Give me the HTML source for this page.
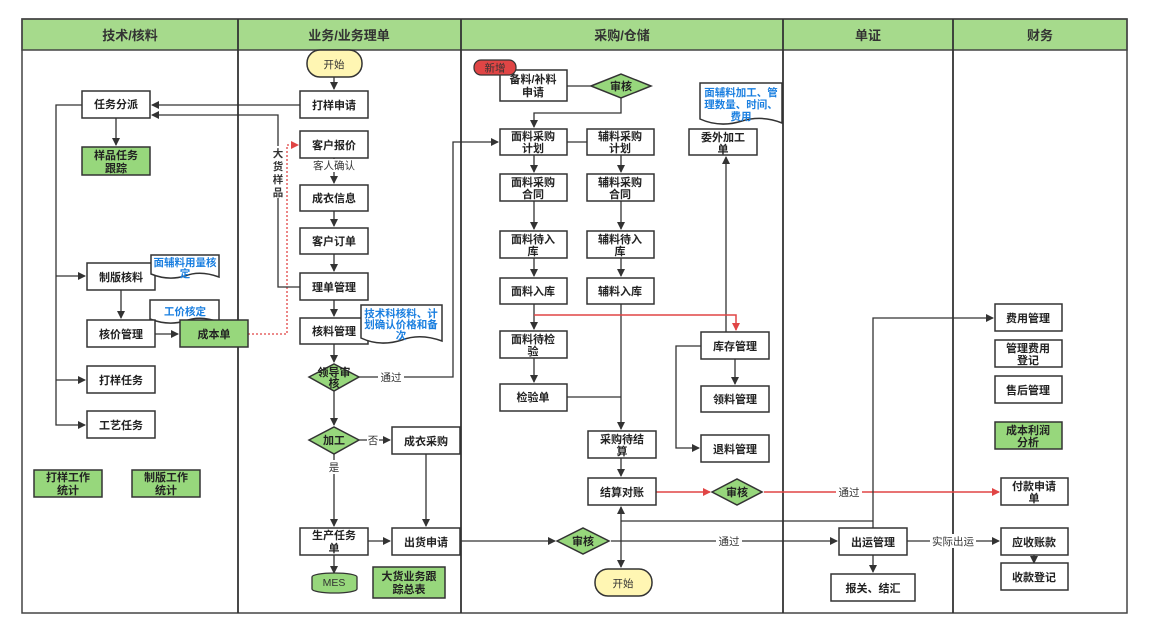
<!DOCTYPE html>
<html><head><meta charset="utf-8"><style>
html,body{margin:0;padding:0;background:#fff;}
svg{display:block;font-family:"Liberation Sans","Noto Sans CJK SC",sans-serif;}
.b{fill:#fff;stroke:#333;stroke-width:1.5;}
.g{fill:#97d77c;stroke:#333;stroke-width:1.5;}
.t{font-size:11px;fill:#222;text-anchor:middle;font-weight:bold;}
.bl{font-size:10.5px;fill:#1a7fe0;text-anchor:middle;font-weight:bold;}
.l{stroke:#333;stroke-width:1.3;fill:none;}
.r{stroke:#e04545;stroke-width:1.5;fill:none;}
.lb{font-size:10.5px;fill:#333;text-anchor:middle;}
</style></head><body>
<svg width="1151" height="634" viewBox="0 0 1151 634">
<defs>
<marker id="a" markerWidth="8" markerHeight="8" refX="7" refY="4" orient="auto" markerUnits="userSpaceOnUse"><path d="M0,0 L8,4 L0,8 z" fill="#333"/></marker>
<marker id="ar" markerWidth="8" markerHeight="8" refX="7" refY="4" orient="auto" markerUnits="userSpaceOnUse"><path d="M0,0 L8,4 L0,8 z" fill="#e04545"/></marker>
</defs>
<!-- frame -->
<rect x="22" y="19" width="1105" height="31" fill="#a6da8c" stroke="#444" stroke-width="1.5"/>
<rect x="22" y="19" width="1105" height="594" fill="none" stroke="#444" stroke-width="1.5"/>
<g stroke="#333" stroke-width="1.8">
<line x1="238" y1="19" x2="238" y2="613"/><line x1="461" y1="19" x2="461" y2="613"/>
<line x1="783" y1="19" x2="783" y2="613"/><line x1="953" y1="19" x2="953" y2="613"/>
</g>
<g font-size="13" font-weight="bold" fill="#333" text-anchor="middle">
<text x="130" y="40">技术/核料</text><text x="349" y="40">业务/业务理单</text>
<text x="622" y="40">采购/仓储</text><text x="868" y="40">单证</text><text x="1040" y="40">财务</text>
</g>

<!-- connectors lane1 -->
<path class="l" d="M82,105 H56 V425 H85" marker-end="url(#a)"/>
<path class="l" d="M56,276 H85" marker-end="url(#a)"/>
<path class="l" d="M56,380 H85" marker-end="url(#a)"/>
<path class="l" d="M116,118 V145" marker-end="url(#a)"/>
<path class="l" d="M121,290 V318" marker-end="url(#a)"/>
<path class="l" d="M155,334 H178" marker-end="url(#a)"/>
<path d="M248,334 H287 V145 H298" fill="none" stroke="#e04545" stroke-width="1.3" stroke-dasharray="2,2" marker-end="url(#ar)"/>
<!-- lane2 -->
<path class="l" d="M300,105 H152" marker-end="url(#a)"/>
<path class="l" d="M300,287 H278 V115 H152" marker-end="url(#a)"/>
<path class="l" d="M334,77 V89" marker-end="url(#a)"/>
<path class="l" d="M334,158 V183" marker-end="url(#a)"/>
<path class="l" d="M334,211 V226" marker-end="url(#a)"/>
<path class="l" d="M334,254 V271" marker-end="url(#a)"/>
<path class="l" d="M334,300 V316" marker-end="url(#a)"/>
<path class="l" d="M334,344 V362" marker-end="url(#a)"/>
<path class="l" d="M334,391 V425" marker-end="url(#a)"/>
<path class="l" d="M334,454 V526" marker-end="url(#a)"/>
<path class="l" d="M359,440 H390" marker-end="url(#a)"/>
<path class="l" d="M426,454 V526" marker-end="url(#a)"/>
<path class="l" d="M368,541 H390" marker-end="url(#a)"/>
<path class="l" d="M334,555 V573" marker-end="url(#a)"/>
<path class="l" d="M359,377 H453 V142 H498" marker-end="url(#a)"/>
<!-- lane3 -->
<path class="l" d="M567,86 H591"/>
<path class="l" d="M621,98 V113 H534 V127" marker-end="url(#a)"/>
<path class="l" d="M567,142 H587"/>
<path class="l" d="M534,155 V172" marker-end="url(#a)"/><path class="l" d="M621,155 V172" marker-end="url(#a)"/>
<path class="l" d="M534,201 V229" marker-end="url(#a)"/><path class="l" d="M621,201 V229" marker-end="url(#a)"/>
<path class="l" d="M534,258 V276" marker-end="url(#a)"/><path class="l" d="M621,258 V276" marker-end="url(#a)"/>
<path class="l" d="M534,304 V329" marker-end="url(#a)"/>
<path class="l" d="M534,358 V382" marker-end="url(#a)"/>
<path class="l" d="M621,304 V429" marker-end="url(#a)"/>
<path class="l" d="M567,397 H621"/>
<path class="l" d="M726,332 V157" marker-end="url(#a)"/>
<path class="r" d="M534,315 H736 V330" marker-end="url(#ar)"/>
<path class="l" d="M735,359 V384" marker-end="url(#a)"/>
<path class="l" d="M701,346 H676 V448 H699" marker-end="url(#a)"/>
<path class="l" d="M621,458 V476" marker-end="url(#a)"/>
<path class="r" d="M656,492 H710" marker-end="url(#ar)"/>
<path class="r" d="M764,492 H999" marker-end="url(#ar)"/>
<path class="l" d="M460,541 H555" marker-end="url(#a)"/>
<path class="l" d="M611,541 H837" marker-end="url(#a)"/>
<path class="l" d="M621,521 V507" marker-end="url(#a)"/>
<path class="l" d="M621,521 V567" marker-end="url(#a)"/>
<path class="l" d="M621,521 H873"/>
<path class="l" d="M873,528 V318 H993" marker-end="url(#a)"/>
<path class="l" d="M873,555 V572" marker-end="url(#a)"/>
<path class="l" d="M907,541 H999" marker-end="url(#a)"/>
<path class="l" d="M1034,555 V563" marker-end="url(#a)"/>
<!-- edge labels -->
<rect x="312" y="159" width="44" height="13" fill="#fff"/><text class="lb" x="334" y="169" fill="#555">客人确认</text>
<rect x="378" y="370" width="26" height="14" fill="#fff"/><text class="lb" x="391" y="381">通过</text>
<rect x="367" y="433" width="12" height="14" fill="#fff"/><text class="lb" x="373" y="444">否</text>
<rect x="327" y="460" width="14" height="14" fill="#fff"/><text class="lb" x="334" y="471">是</text>
<rect x="836" y="485" width="26" height="14" fill="#fff"/><text class="lb" x="849" y="496">通过</text>
<rect x="716" y="534" width="26" height="14" fill="#fff"/><text class="lb" x="729" y="545">通过</text>
<rect x="930" y="534" width="46" height="14" fill="#fff"/><text class="lb" x="953" y="545">实际出运</text>
<rect x="270" y="146" width="16" height="52" fill="#fff"/>
<g class="lb" font-weight="bold"><text x="278" y="157">大</text><text x="278" y="170">货</text><text x="278" y="183">样</text><text x="278" y="196">品</text></g>

<!-- lane1 nodes -->
<rect class="b" x="82" y="91" width="68" height="27"/><text class="t" x="116" y="108">任务分派</text>
<rect class="g" x="82" y="147" width="68" height="28"/><text class="t" x="116" y="159">样品任务</text><text class="t" x="116" y="172">跟踪</text>
<rect class="b" x="87" y="263" width="68" height="27"/><text class="t" x="121" y="281">制版核料</text>
<path class="b" d="M151,255 H219 V277 Q200,270 185,276 Q168,281 151,274 Z"/><text class="bl" x="185" y="266">面辅料用量核</text><text class="bl" x="185" y="277">定</text>
<path class="b" d="M150,300 H219 V322 Q200,315 185,321 Q168,326 150,319 Z"/><text class="bl" x="185" y="315">工价核定</text>
<rect class="b" x="87" y="320" width="68" height="27"/><text class="t" x="121" y="338">核价管理</text>
<rect class="g" x="180" y="320" width="68" height="27"/><text class="t" x="214" y="338">成本单</text>
<rect class="b" x="87" y="366" width="68" height="27"/><text class="t" x="121" y="384">打样任务</text>
<rect class="b" x="87" y="411" width="68" height="27"/><text class="t" x="121" y="429">工艺任务</text>
<rect class="g" x="34" y="470" width="68" height="27"/><text class="t" x="68" y="481">打样工作</text><text class="t" x="68" y="494">统计</text>
<rect class="g" x="132" y="470" width="68" height="27"/><text class="t" x="166" y="481">制版工作</text><text class="t" x="166" y="494">统计</text>

<!-- lane2 nodes -->
<rect x="307" y="50" width="55" height="27" rx="13" fill="#fff6b3" stroke="#333" stroke-width="1.5"/><text class="lb" x="334" y="68">开始</text>
<rect class="b" x="300" y="91" width="68" height="27"/><text class="t" x="334" y="109">打样申请</text>
<rect class="b" x="300" y="131" width="68" height="27"/><text class="t" x="334" y="149">客户报价</text>
<rect class="b" x="300" y="185" width="68" height="26"/><text class="t" x="334" y="202">成衣信息</text>
<rect class="b" x="300" y="228" width="68" height="26"/><text class="t" x="334" y="245">客户订单</text>
<rect class="b" x="300" y="273" width="68" height="27"/><text class="t" x="334" y="291">理单管理</text>
<rect class="b" x="300" y="318" width="68" height="26"/><text class="t" x="334" y="335">核料管理</text>
<path class="b" d="M361,305 H442 V341 Q420,333 402,340 Q380,347 361,338 Z"/><text class="bl" x="401" y="317">技术科核料、计</text><text class="bl" x="401" y="328">划确认价格和备</text><text class="bl" x="401" y="339">次</text>
<polygon class="g" points="309,377 334,364 359,377 334,391"/><text class="t" x="334" y="376" font-size="10">领导审</text><text class="t" x="334" y="387" font-size="10">核</text>
<polygon class="g" points="309,440 334,427 359,440 334,454"/><text class="t" x="334" y="444">加工</text>
<rect class="b" x="392" y="427" width="68" height="27"/><text class="t" x="426" y="445">成衣采购</text>
<rect class="b" x="300" y="528" width="68" height="27"/><text class="t" x="334" y="539">生产任务</text><text class="t" x="334" y="552">单</text>
<rect class="b" x="392" y="528" width="68" height="27"/><text class="t" x="426" y="546">出货申请</text>
<path d="M312,577 V589 A22.5,4 0 0 0 357,589 V577 A22.5,4 0 0 0 312,577 Z" fill="#97d77c" stroke="#333" stroke-width="1.3"/><text class="lb" x="334" y="586" fill="#333">MES</text>
<rect class="g" x="373" y="567" width="72" height="31"/><text class="t" x="409" y="580">大货业务跟</text><text class="t" x="409" y="593">踪总表</text>

<!-- lane3 nodes -->
<rect class="b" x="500" y="70" width="67" height="31"/><text class="t" x="533" y="83">备料/补料</text><text class="t" x="533" y="96">申请</text>
<rect x="474" y="60" width="42" height="15" rx="7" fill="#e04545" stroke="#333" stroke-width="1.2"/><text x="495" y="71.5" font-size="10.5" fill="#333" text-anchor="middle">新增</text>
<polygon class="g" points="591,86 621,74 651,86 621,98"/><text class="t" x="621" y="90">审核</text>
<rect class="b" x="500" y="129" width="67" height="26"/><text class="t" x="533" y="140">面料采购</text><text class="t" x="533" y="152">计划</text>
<rect class="b" x="587" y="129" width="67" height="26"/><text class="t" x="620" y="140">辅料采购</text><text class="t" x="620" y="152">计划</text>
<rect class="b" x="500" y="174" width="67" height="27"/><text class="t" x="533" y="186">面料采购</text><text class="t" x="533" y="198">合同</text>
<rect class="b" x="587" y="174" width="67" height="27"/><text class="t" x="620" y="186">辅料采购</text><text class="t" x="620" y="198">合同</text>
<rect class="b" x="500" y="231" width="67" height="27"/><text class="t" x="533" y="243">面料待入</text><text class="t" x="533" y="255">库</text>
<rect class="b" x="587" y="231" width="67" height="27"/><text class="t" x="620" y="243">辅料待入</text><text class="t" x="620" y="255">库</text>
<rect class="b" x="500" y="278" width="67" height="26"/><text class="t" x="533" y="295">面料入库</text>
<rect class="b" x="587" y="278" width="67" height="26"/><text class="t" x="620" y="295">辅料入库</text>
<path class="b" d="M700,83 H782 V123 Q762,115 742,121 Q720,128 700,119 Z"/><text class="bl" x="741" y="96">面辅料加工、管</text><text class="bl" x="741" y="108">理数量、时间、</text><text class="bl" x="741" y="120">费用</text>
<rect class="b" x="689" y="129" width="68" height="26"/><text class="t" x="723" y="141">委外加工</text><text class="t" x="723" y="153">单</text>
<rect class="b" x="500" y="331" width="67" height="27"/><text class="t" x="533" y="343">面料待检</text><text class="t" x="533" y="355">验</text>
<rect class="b" x="500" y="384" width="67" height="27"/><text class="t" x="533" y="401">检验单</text>
<rect class="b" x="701" y="332" width="68" height="27"/><text class="t" x="735" y="350">库存管理</text>
<rect class="b" x="701" y="386" width="68" height="26"/><text class="t" x="735" y="403">领料管理</text>
<rect class="b" x="701" y="435" width="68" height="27"/><text class="t" x="735" y="453">退料管理</text>
<rect class="b" x="588" y="431" width="68" height="27"/><text class="t" x="622" y="443">采购待结</text><text class="t" x="622" y="455">算</text>
<rect class="b" x="588" y="478" width="68" height="27"/><text class="t" x="622" y="496">结算对账</text>
<polygon class="g" points="712,492 737,479 762,492 737,505"/><text class="t" x="737" y="496">审核</text>
<polygon class="g" points="557,541 583,528 609,541 583,554"/><text class="t" x="583" y="545">审核</text>
<rect x="595" y="569" width="57" height="27" rx="13" fill="#fff6b3" stroke="#333" stroke-width="1.5"/><text class="lb" x="623" y="587">开始</text>

<!-- lane4 -->
<rect class="b" x="839" y="528" width="68" height="27"/><text class="t" x="873" y="546">出运管理</text>
<rect class="b" x="831" y="574" width="84" height="27"/><text class="t" x="873" y="592">报关、结汇</text>
<!-- lane5 -->
<rect class="b" x="995" y="304" width="67" height="27"/><text class="t" x="1028" y="322">费用管理</text>
<rect class="b" x="995" y="340" width="67" height="27"/><text class="t" x="1028" y="352">管理费用</text><text class="t" x="1028" y="364">登记</text>
<rect class="b" x="995" y="376" width="67" height="27"/><text class="t" x="1028" y="394">售后管理</text>
<rect class="g" x="995" y="422" width="67" height="27"/><text class="t" x="1028" y="434">成本利润</text><text class="t" x="1028" y="446">分析</text>
<rect class="b" x="1001" y="478" width="67" height="27"/><text class="t" x="1034" y="490">付款申请</text><text class="t" x="1034" y="502">单</text>
<rect class="b" x="1001" y="528" width="67" height="27"/><text class="t" x="1034" y="546">应收账款</text>
<rect class="b" x="1001" y="563" width="67" height="27"/><text class="t" x="1034" y="581">收款登记</text>
</svg>
</body></html>
